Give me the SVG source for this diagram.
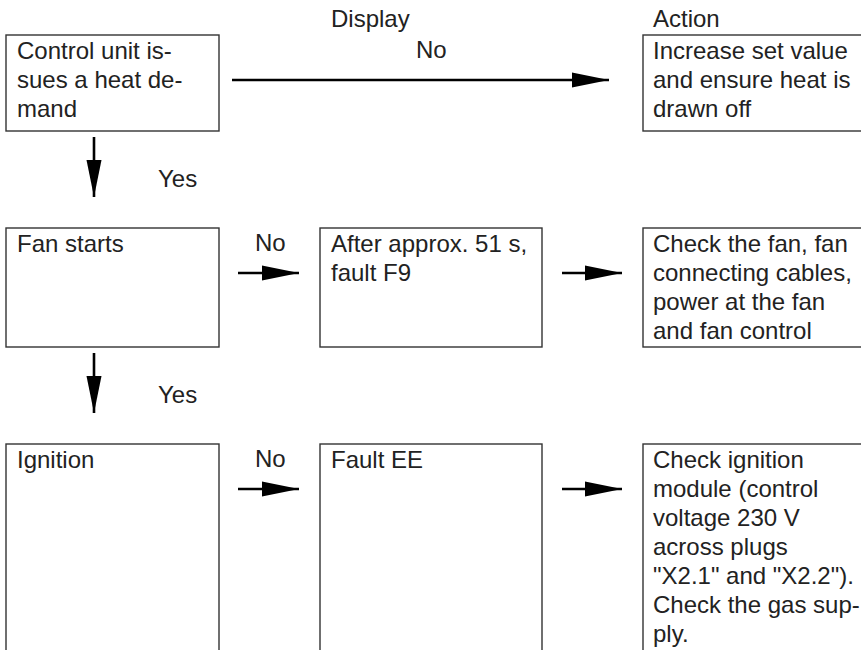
<svg xmlns="http://www.w3.org/2000/svg" width="861" height="650" viewBox="0 0 861 650">
<defs>
<style>
text{font-family:"Liberation Sans",Arial,sans-serif;font-size:24px;fill:#222}
.box{fill:#fff;stroke:#333;stroke-width:1.4}
.ln{stroke:#000;stroke-width:2.6;fill:none}
</style>
<marker id="ah" markerUnits="userSpaceOnUse" markerWidth="38" markerHeight="16" refX="37" refY="8" orient="auto">
<path d="M0,0.5 L37,8 L0,15.5 z" fill="#000"/>
</marker>
</defs>
<rect width="861" height="650" fill="#fff"/>
<text x="331" y="27">Display</text>
<text x="653" y="27">Action</text>
<g id="n1"><rect class="box" x="6" y="35" width="213" height="96"/>
<text x="17" y="59">Control unit is-</text><text x="17" y="88">sues a heat de-</text><text x="17" y="117">mand</text></g>
<g id="n2"><rect class="box" x="643" y="35" width="240" height="96"/>
<text x="653" y="59">Increase set value</text><text x="653" y="88">and ensure heat is</text><text x="653" y="117">drawn off</text></g>
<g id="n3"><rect class="box" x="6" y="228" width="213" height="119"/>
<text x="17" y="252">Fan starts</text></g>
<g id="n4"><rect class="box" x="320" y="228" width="222" height="119"/>
<text x="331" y="252">After approx. 51 s,</text><text x="331" y="281">fault F9</text></g>
<g id="n5"><rect class="box" x="643" y="228" width="240" height="119"/>
<text x="653" y="252">Check the fan, fan</text><text x="653" y="281">connecting cables,</text><text x="653" y="310">power at the fan</text><text x="653" y="339">and fan control</text></g>
<g id="n6"><rect class="box" x="6" y="444" width="213" height="260"/>
<text x="17" y="468">Ignition</text></g>
<g id="n7"><rect class="box" x="320" y="444" width="222" height="260"/>
<text x="331" y="468">Fault EE</text></g>
<g id="n8"><rect class="box" x="643" y="444" width="240" height="260"/>
<text x="653" y="468">Check ignition</text><text x="653" y="497">module (control</text><text x="653" y="526">voltage 230 V</text><text x="653" y="555">across plugs</text><text x="653" y="584">"X2.1" and "X2.2").</text><text x="653" y="613">Check the gas sup-</text><text x="653" y="642">ply.</text></g>
<g id="connectors">
<line class="ln" x1="232" y1="80" x2="609" y2="80" marker-end="url(#ah)"/>
<text x="416" y="58">No</text>
<line class="ln" x1="94" y1="137" x2="94" y2="197" marker-end="url(#ah)"/>
<text x="158" y="187">Yes</text>
<line class="ln" x1="238" y1="273" x2="299" y2="273" marker-end="url(#ah)"/>
<text x="255" y="251">No</text>
<line class="ln" x1="562" y1="273" x2="622" y2="273" marker-end="url(#ah)"/>
<line class="ln" x1="94" y1="353" x2="94" y2="413" marker-end="url(#ah)"/>
<text x="158" y="403">Yes</text>
<line class="ln" x1="238" y1="489" x2="299" y2="489" marker-end="url(#ah)"/>
<text x="255" y="467">No</text>
<line class="ln" x1="562" y1="489" x2="622" y2="489" marker-end="url(#ah)"/>
</g>
</svg>
